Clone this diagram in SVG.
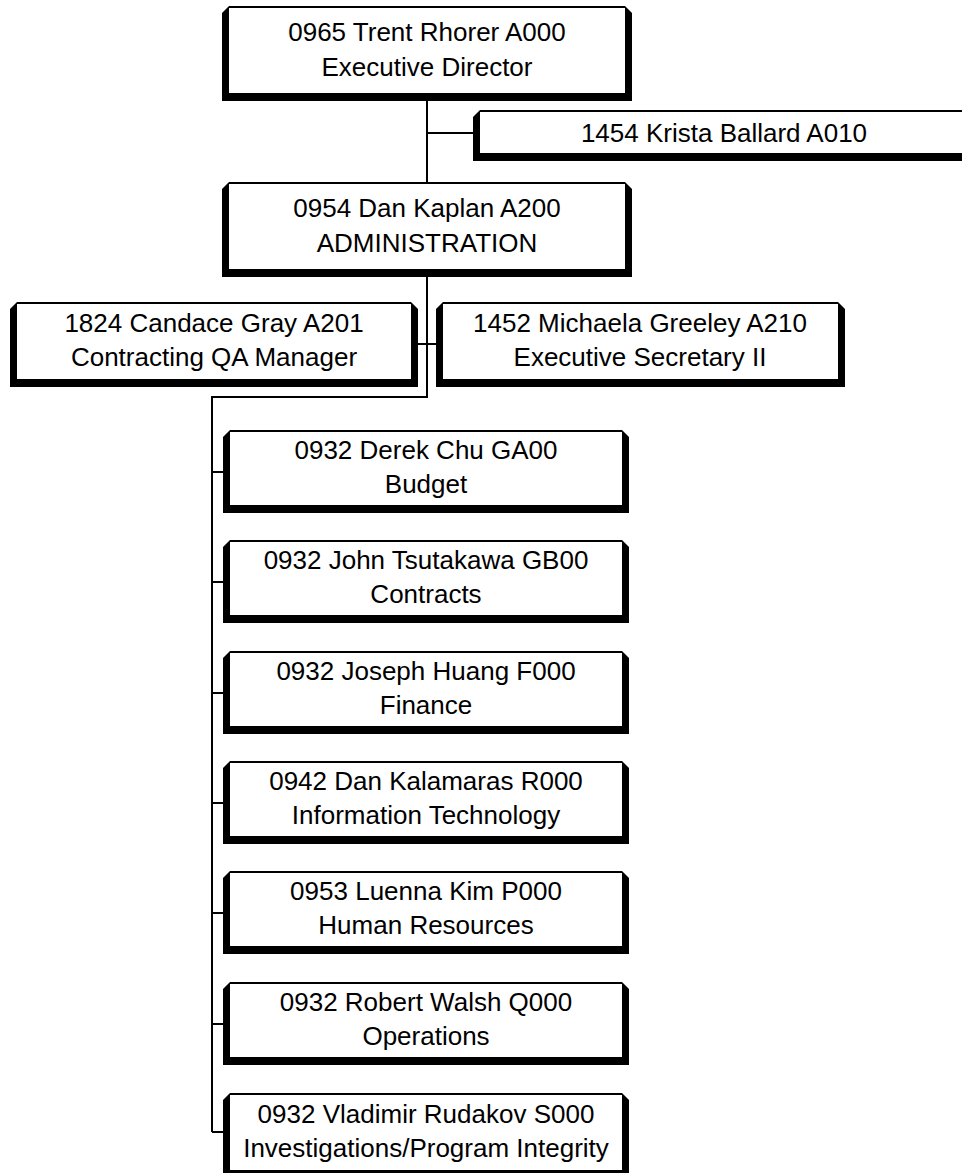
<svg xmlns="http://www.w3.org/2000/svg" width="962" height="1173" viewBox="0 0 962 1173">
<style>
.frame{fill:#000}
.face{fill:#fff}
.t{font-family:"Liberation Sans",Arial,sans-serif;font-size:26px;fill:#000;text-anchor:middle}
.c{stroke:#000;stroke-width:2;fill:none}
</style>
<rect width="962" height="1173" fill="#fff"/>
<g id="connectors">
<path class="c" d="M427,101 V182 M427,133 H473 M427,277 V397 H212 V1132 M418,344 H436 M212,472 H223 M212,582 H223 M212,693 H223 M212,803 H223 M212,913 H223 M212,1024 H223 M212,1132 H223"/>
</g>
<g id="n-trent">
<path class="frame" d="M222,13 L229,6 H625 L632,13 V101 H222 Z"/>
<rect class="face" x="229" y="8" width="396" height="85"/>
<text class="t" x="427" y="41">0965 Trent Rhorer A000</text>
<text class="t" x="427" y="76">Executive Director</text>
</g>
<g id="n-krista">
<path class="frame" d="M473,117 L480,110 H983 L990,117 V161 H473 Z"/>
<rect class="face" x="480" y="112" width="503" height="41"/>
<text class="t" x="724" y="142">1454 Krista Ballard A010</text>
</g>
<g id="n-dan">
<path class="frame" d="M222,189 L229,182 H625 L632,189 V277 H222 Z"/>
<rect class="face" x="229" y="184" width="396" height="85"/>
<text class="t" x="427" y="217">0954 Dan Kaplan A200</text>
<text class="t" x="427" y="252">ADMINISTRATION</text>
</g>
<g id="n-candace">
<path class="frame" d="M10,309 L17,302 H411 L418,309 V387 H10 Z"/>
<rect class="face" x="17" y="304" width="394" height="75"/>
<text class="t" x="214" y="332">1824 Candace Gray A201</text>
<text class="t" x="214" y="366">Contracting QA Manager</text>
</g>
<g id="n-michaela">
<path class="frame" d="M436,309 L443,302 H838 L845,309 V387 H436 Z"/>
<rect class="face" x="443" y="304" width="395" height="75"/>
<text class="t" x="640" y="332">1452 Michaela Greeley A210</text>
<text class="t" x="640" y="366">Executive Secretary II</text>
</g>
<g id="n-derek">
<path class="frame" d="M223,437 L230,430 H622 L629,437 V513 H223 Z"/>
<rect class="face" x="230" y="432" width="392" height="73"/>
<text class="t" x="426" y="459">0932 Derek Chu GA00</text>
<text class="t" x="426" y="493">Budget</text>
</g>
<g id="n-john">
<path class="frame" d="M223,547 L230,540 H622 L629,547 V623 H223 Z"/>
<rect class="face" x="230" y="542" width="392" height="73"/>
<text class="t" x="426" y="569">0932 John Tsutakawa GB00</text>
<text class="t" x="426" y="603">Contracts</text>
</g>
<g id="n-joseph">
<path class="frame" d="M223,658 L230,651 H622 L629,658 V734 H223 Z"/>
<rect class="face" x="230" y="653" width="392" height="73"/>
<text class="t" x="426" y="680">0932 Joseph Huang F000</text>
<text class="t" x="426" y="714">Finance</text>
</g>
<g id="n-dank">
<path class="frame" d="M223,768 L230,761 H622 L629,768 V844 H223 Z"/>
<rect class="face" x="230" y="763" width="392" height="73"/>
<text class="t" x="426" y="790">0942 Dan Kalamaras R000</text>
<text class="t" x="426" y="824">Information Technology</text>
</g>
<g id="n-luenna">
<path class="frame" d="M223,878 L230,871 H622 L629,878 V954 H223 Z"/>
<rect class="face" x="230" y="873" width="392" height="73"/>
<text class="t" x="426" y="900">0953 Luenna Kim P000</text>
<text class="t" x="426" y="934">Human Resources</text>
</g>
<g id="n-robert">
<path class="frame" d="M223,989 L230,982 H622 L629,989 V1065 H223 Z"/>
<rect class="face" x="230" y="984" width="392" height="73"/>
<text class="t" x="426" y="1011">0932 Robert Walsh Q000</text>
<text class="t" x="426" y="1045">Operations</text>
</g>
<g id="n-vladimir">
<path class="frame" d="M223,1100 L230,1093 H622 L629,1100 V1178 H223 Z"/>
<rect class="face" x="230" y="1095" width="392" height="75"/>
<text class="t" x="426" y="1123">0932 Vladimir Rudakov S000</text>
<text class="t" x="426" y="1157">Investigations/Program Integrity</text>
</g>
</svg>
